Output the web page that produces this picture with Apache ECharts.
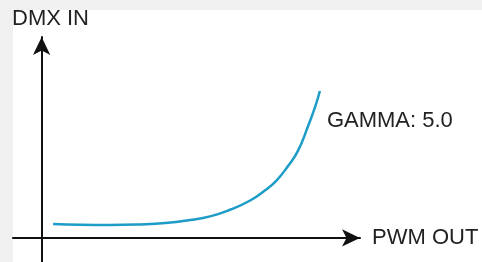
<!DOCTYPE html>
<html>
<head>
<meta charset="utf-8">
<script src="https://cdn.jsdelivr.net/npm/echarts@6/dist/echarts.min.js"></script>
<style>
    html, body { margin: 0; padding: 0; background: #f0f0f0; }
    #paper { position: absolute; left: 13px; top: 10px; right: 0; bottom: 0; background: #fff; }
    #content { position: absolute; left: 0; top: 0; width: 482px; height: 262px; }
</style>
</head>
<body>
<div id="paper"></div>
<div id="content"></div>
<script>
// curve (PWM out vs DMX in, arbitrary 0..100 units)
var pwmOut = [3.6, 12.1, 21.5, 30.9, 38.8, 46.6, 52.9, 59.2, 65.5, 70.2, 73.9, 77.4, 80.5, 83.7, 85.9, 87.4];
var dmxIn = [6.9, 6.5, 6.4, 6.7, 7.4, 8.9, 10.7, 14.0, 18.6, 23.7, 28.8, 35.8, 43.3, 55.7, 65.2, 73.1];
var gammaLabel = 'GAMMA: 5.0';
var xName = 'PWM OUT';
var yName = 'DMX IN';

!(function(window) {
    var element = document.getElementById('content');
    var myChart = echarts.init(element, null, { renderer: 'canvas' });

    var points = [];
    for (var i = 0; i < pwmOut.length; i++) {
        points.push([pwmOut[i], dmxIn[i]]);
    }

    var font = '"Liberation Sans", Arial, sans-serif';
    var axisLine = {
        onZero: true,
        symbol: ['none', 'arrow'],
        symbolSize: [13, 18],
        lineStyle: { color: '#111', width: 2 }
    };

    var option = {
        animation: false,
        grid: { left: 13, right: 122, top: 37, bottom: 0 },
        graphic: [{
            type: 'text',
            left: 12,
            top: 8,
            style: { text: yName, font: '22px ' + font, fill: '#222' }
        }],
        xAxis: {
            type: 'value',
            min: -9,
            max: 100,
            name: xName,
            nameLocation: 'end',
            nameGap: 12,
            nameTextStyle: { fontFamily: font, fontSize: 22, color: '#222', verticalAlign: 'middle', padding: [6, 0, 0, 0] },
            axisLine: axisLine,
            axisTick: { show: false },
            axisLabel: { show: false },
            splitLine: { show: false }
        },
        yAxis: {
            type: 'value',
            min: -12,
            max: 100,
            axisLine: axisLine,
            axisTick: { show: false },
            axisLabel: { show: false },
            splitLine: { show: false }
        },
        series: [{
            type: 'line',
            smooth: true,
            symbol: 'none',
            data: points,
            lineStyle: { color: '#1c9cc6', width: 2.5 },
            endLabel: {
                show: true,
                formatter: gammaLabel,
                offset: [-1, 30],
                fontFamily: font,
                fontSize: 22,
                color: '#222'
            }
        }]
    };
    myChart.setOption(option);
})(window);
</script>
</body>
</html>
